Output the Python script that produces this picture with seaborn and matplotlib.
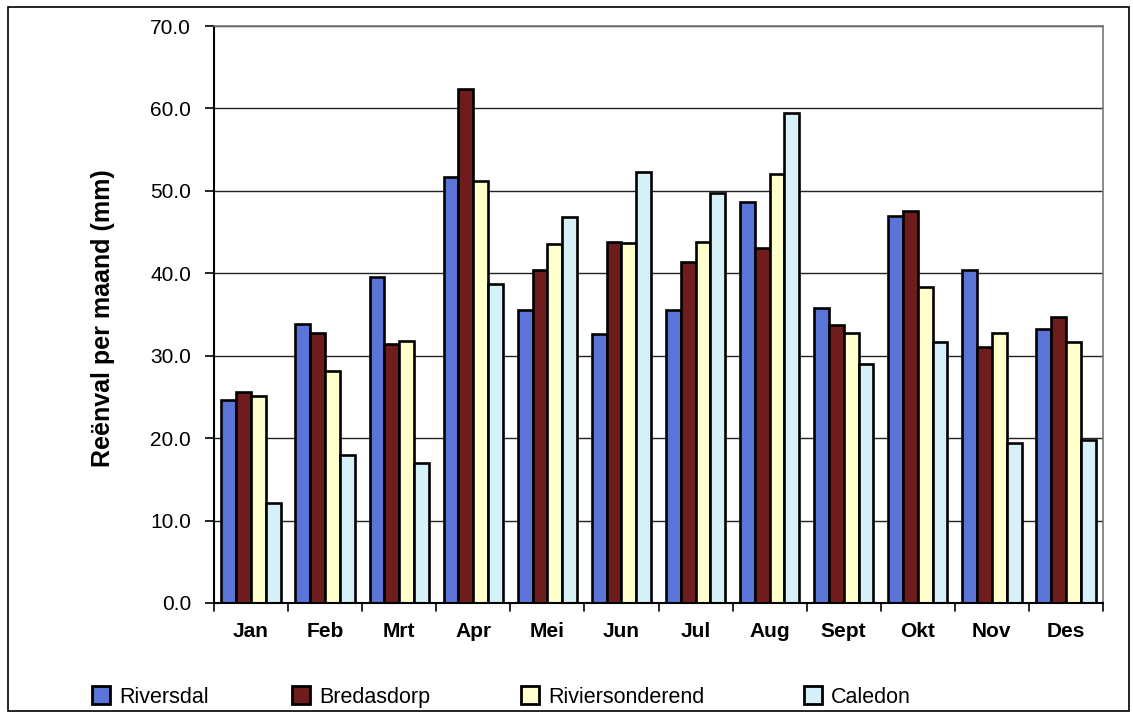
import matplotlib
matplotlib.use("Agg")
import matplotlib.pyplot as plt
import matplotlib.patches as mpatches
import seaborn as sns
import pandas as pd

months = ["Jan", "Feb", "Mrt", "Apr", "Mei", "Jun", "Jul", "Aug", "Sept", "Okt", "Nov", "Des"]
stations = ["Riversdal", "Bredasdorp", "Riviersonderend", "Caledon"]

riversdal = [24.6, 33.8, 39.5, 51.7, 35.5, 32.6, 35.5, 48.7, 35.8, 47.0, 40.4, 33.2]
bredasdorp = [25.6, 32.7, 31.4, 62.3, 40.4, 43.8, 41.4, 43.1, 33.7, 47.5, 31.0, 34.7]
riviersonderend = [25.1, 28.2, 31.8, 51.2, 43.6, 43.7, 43.8, 52.1, 32.8, 38.3, 32.8, 31.7]
caledon = [12.1, 18.0, 17.0, 38.7, 46.8, 52.3, 49.7, 59.5, 29.0, 31.7, 19.4, 19.8]

colors = ["#5b74d8", "#6e1c1c", "#ffffcc", "#d6f0f8"]

series = [riversdal, bredasdorp, riviersonderend, caledon]
df = pd.DataFrame({
    "maand": [m for _ in stations for m in months],
    "stasie": [s for s in stations for _ in months],
    "reenval": [v for vals in series for v in vals],
})

sns.set_theme(style="white")
plt.rcParams["font.family"] = ["Liberation Sans", "DejaVu Sans"]
plt.rcParams.update({"text.color": "black", "axes.labelcolor": "black",
                     "xtick.color": "black", "ytick.color": "black"})

W, H = 1133, 714
fig = plt.figure(figsize=(W / 100, H / 100), dpi=100)
ax = fig.add_axes([214 / W, 1 - 603 / H, (1103 - 214) / W, (603 - 26) / H])

sns.barplot(data=df, x="maand", y="reenval", hue="stasie", order=months,
            hue_order=stations, palette=colors, width=0.8, edgecolor="black",
            linewidth=1.9, saturation=1, legend=False, ax=ax)

ax.set_ylim(0, 70)
ax.set_xlim(-0.5, len(months) - 0.5)
ax.set_yticks(range(0, 71, 10))
ax.set_yticklabels([f"{v:.1f}" for v in range(0, 71, 10)], fontsize=15)
ax.yaxis.grid(True, color="#222222", linewidth=1.0)
ax.set_axisbelow(True)

# category ticks sit between the month groups
ax.set_xticks(range(len(months)))
ax.set_xticklabels(months, fontsize=15, fontweight="black")
ax.tick_params(axis="x", length=0, pad=14)
for b in [i - 0.5 for i in range(len(months) + 1)]:
    ax.plot([b, b], [0, -0.013], transform=ax.get_xaxis_transform(),
            color="black", linewidth=1.2, clip_on=False)
ax.tick_params(axis="y", left=True, length=6.5, width=1.2, color="black", pad=10)

ax.set_xlabel("")
ax.set_ylabel("Reënval per maand (mm)", fontsize=18, fontweight="bold")
ax.yaxis.set_label_coords(-0.111, 0.494)

ax.spines["left"].set_color("black")
ax.spines["left"].set_linewidth(1.5)
ax.spines["bottom"].set_color("black")
ax.spines["bottom"].set_linewidth(1.5)
ax.spines["top"].set_color("#777777")
ax.spines["top"].set_linewidth(1.2)
ax.spines["right"].set_color("#777777")
ax.spines["right"].set_linewidth(1.2)

# one legend entry per station, spread along the bottom of the chart
legend_x = [92, 292, 521, 804]
for name, col, lx in zip(stations, colors, legend_x):
    patch = mpatches.Patch(facecolor=col, edgecolor="black", linewidth=2.0)
    fig.legend([patch], [name], loc="center left", bbox_to_anchor=(lx / W, 1 - 697 / H),
               frameon=False, fontsize=15.5, handlelength=0.85, handleheight=0.85,
               handletextpad=0.4, borderpad=0, borderaxespad=0)

# outer chart frame
fig.patches.append(mpatches.Rectangle((8 / W, 3 / H), 1121 / W, 704 / H,
                                      transform=fig.transFigure, fill=False,
                                      edgecolor="black", linewidth=1.2))

fig.savefig("out.png", dpi=100)
